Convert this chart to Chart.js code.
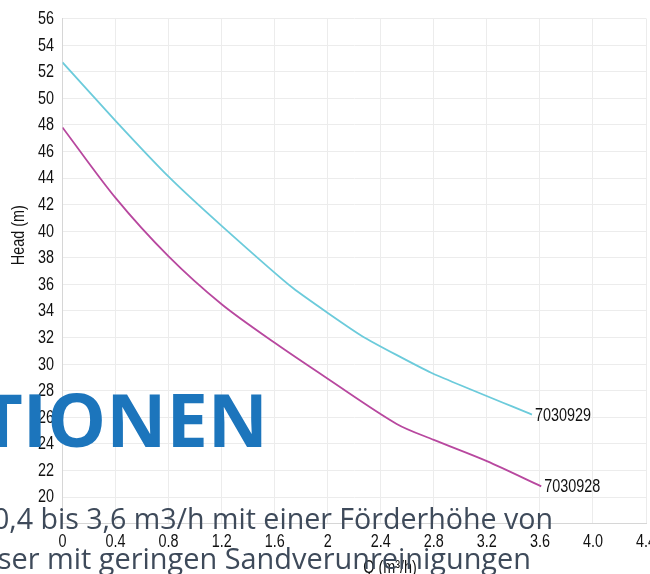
<!DOCTYPE html>
<html lang="de">
<head>
    <meta charset="UTF-8">
    <title>Pumpenkennlinie</title>
    <style>
      html, body {
        margin:0;padding:0;overflow:hidden;background:#ffffff;
      }
      #wrap {
        position:relative;width:650px;height:574px;overflow:hidden;
      }
      #chart_box {
        position:absolute;left:0;top:0;width:700px;height:574px;
      }
      .big {
        position:absolute;right:382px;top:382px;white-space:nowrap;
        font-family:'Open Sans';font-weight:700;font-size:74px;line-height:74px;color:#1c75bc;
      }
      .grey {
        position:absolute;white-space:nowrap;
        font-family:'Open Sans';font-size:28.6px;line-height:28px;color:#3e4a5a;
      }
    </style>
    <script src="https://cdn.jsdelivr.net/npm/chart.js@4.4.1/dist/chart.umd.min.js"></script>
</head>

<body>
  <div id="wrap">
    <div id="chart_box"><canvas id="curve_data"></canvas></div>
    <div class="big">TIONEN</div>
    <div class="grey" style="right:97px;top:504px;">0,4 bis 3,6 m3/h mit einer Förderhöhe von</div>
    <div class="grey" style="right:119px;top:544px;font-size:28.9px;">ser mit geringen Sandverunreinigungen</div>
  </div>
    <script>
        // Q (m3/h) / Head (m)
        const q_929 = [0, 0.4, 0.8, 1.2, 1.74, 2.26, 2.78, 3.54];
        const head_929 = [52.7, 48.3, 44.1, 40.4, 35.7, 32.1, 29.35, 26.2];
        const q_928 = [0, 0.4, 0.8, 1.2, 1.6, 2.0, 2.52, 2.8, 3.2, 3.61];
        const head_928 = [47.8, 42.5, 38.1, 34.5, 31.6, 28.9, 25.5, 24.3, 22.7, 20.8];

        const seriesNames = ['7030929', '7030928'];
        const xTicks = [0, 0.4, 0.8, 1.2, 1.6, 2, 2.4, 2.8, 3.2, 3.6, 4.0, 4.4];
        const xTickLabels = ['0', '0.4', '0.8', '1.2', '1.6', '2', '2.4', '2.8', '3.2', '3.6', '4.0', '4.4'];

        // narrow look: Liberation Sans squeezed like Arial Narrow
        const narrowFont = "18px 'Liberation Sans', sans-serif";
        function narrowText(ctx, txt, x, y, align) {
          ctx.save();
          ctx.translate(x, y);
          ctx.scale(0.8, 1);
          ctx.textAlign = align;
          ctx.fillText(txt, 0, 0);
          ctx.restore();
        }

        // tick labels, axis titles + end labels
        const labelPlugin = {
          id: 'labels',
          afterDraw(chart) {
            const ctx = chart.ctx;
            const xs = chart.scales.x, ys = chart.scales.y;
            ctx.save();
            ctx.fillStyle = '#111111';
            ctx.font = narrowFont;
            ctx.textBaseline = 'middle';
            ys.ticks.forEach(t => {
              if (t.value == 18) return;
              narrowText(ctx, String(t.value), ys.left + ys.width - 8.5, ys.getPixelForValue(t.value) + 0.5, 'right');
            });
            xs.ticks.forEach((t, i) => {
              narrowText(ctx, xTickLabels[i], xs.getPixelForValue(t.value), xs.top + 18.5, 'center');
            });
            chart.data.datasets.forEach((ds, i) => {
              const pts = chart.getDatasetMeta(i).data;
              const last = pts[pts.length - 1];
              narrowText(ctx, ds.label, last.x + 3, last.y + 1, 'left');
            });
            narrowText(ctx, 'Q (m³/h)', xs.getPixelForValue(2.47), 568, 'center');
            ctx.translate(19, ys.getPixelForValue(39.7));
            ctx.rotate(-Math.PI / 2);
            narrowText(ctx, 'Head (m)', 0, 0, 'center');
            ctx.restore();
          }
        };

        var ctx = document.getElementById('curve_data').getContext('2d');
        var chart = new Chart(ctx, {
          type: 'line',
          data: {
            datasets: [{
              label: seriesNames[0],
              data: q_929.map((q, i) => ({x: q, y: head_929[i]})),
              borderColor: '#6ccbdb',
              backgroundColor: '#6ccbdb',
              borderWidth: 1.8,
              pointRadius: 0,
              tension: 0.15,
              fill: false
            }, {
              label: seriesNames[1],
              data: q_928.map((q, i) => ({x: q, y: head_928[i]})),
              borderColor: '#b8489f',
              backgroundColor: '#b8489f',
              borderWidth: 1.8,
              pointRadius: 0,
              tension: 0.3,
              fill: false
            }]
          },
          options: {
            responsive: true,
            maintainAspectRatio: false,
            animation: false,
            layout: {padding: {left: 0, top: 18.5, right: 54, bottom: 0}},
            plugins: {legend: {display: false}, tooltip: {enabled: false}},
            scales: {
              x: {
                type: 'linear',
                min: 0,
                max: 4.4,
                afterBuildTicks: s => { s.ticks = xTicks.map(v => ({value: v})); },
                afterFit: s => { s.height = 50.4; },
                grid: {color: '#ececec', drawTicks: false},
                border: {color: '#d6d6d6'},
                ticks: {display: false}
              },
              y: {
                min: 18,
                max: 56,
                afterFit: s => { s.width = 62.5; },
                grid: {color: '#ececec', drawTicks: false},
                border: {color: '#d6d6d6'},
                ticks: {display: false, stepSize: 2}
              }
            }
          },
          plugins: [labelPlugin]
        });
    </script>
</body>

</html>
